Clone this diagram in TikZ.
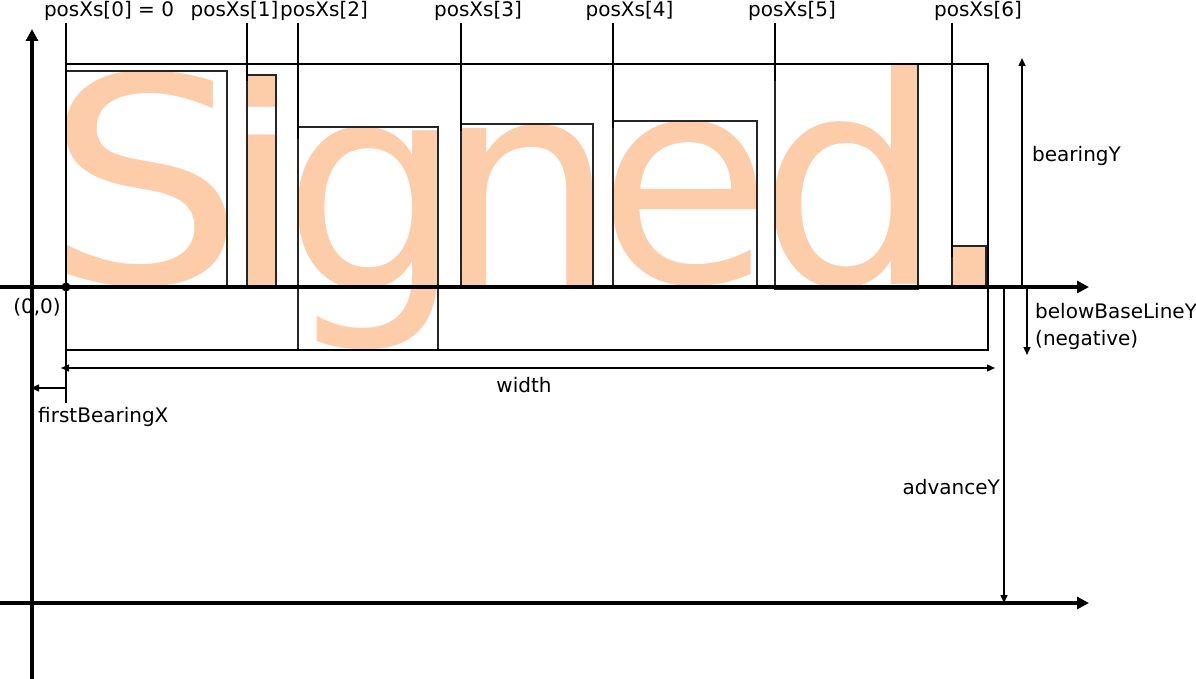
\documentclass[tikz,border=0pt]{standalone}
\usepackage{fontspec}
\setmainfont{DejaVu Sans}
\usetikzlibrary{arrows.meta}
\definecolor{peach}{RGB}{253,205,170}
\makeatletter
% measure the ink of a glyph at 100pt: left bearing, top, ink width, ink height
\newcommand\measureglyph[2]{%
  \begingroup
  \fontsize{100}{100}\selectfont
  \setbox0=\hbox{#2}%
  \count@=\XeTeXcharglyph`#2\relax
  \dimen1=\XeTeXglyphbounds1 \count@
  \dimen2=\XeTeXglyphbounds2 \count@
  \dimen4=\XeTeXglyphbounds3 \count@
  \dimen6=\XeTeXglyphbounds4 \count@
  \dimen8=\wd0 \advance\dimen8 by -\dimen1 \advance\dimen8 by -\dimen4
  \dimen3=\dimen2 \advance\dimen3 by \dimen6
  \expandafter\xdef\csname gW@#1\endcsname{\strip@pt\dimen8}%
  \expandafter\xdef\csname gH@#1\endcsname{\strip@pt\dimen3}%
  \expandafter\xdef\csname gL@#1\endcsname{\strip@pt\dimen1}%
  \expandafter\xdef\csname gT@#1\endcsname{\strip@pt\dimen2}%
  \endgroup
}
\AtBeginDocument{%
  \measureglyph{gS}{S}\measureglyph{gi}{i}\measureglyph{gg}{g}%
  \measureglyph{gn}{n}\measureglyph{ge}{e}\measureglyph{gd}{d}%
  \measureglyph{gp}{.}}
% place a glyph so that its ink fills the box (x1,y1)-(x2,y2), y measured downwards
\newcommand\fitglyph[6]{%
  \begingroup
  \edef\gW{\csname gW@#1\endcsname}%
  \edef\gH{\csname gH@#1\endcsname}%
  \edef\gL{\csname gL@#1\endcsname}%
  \edef\gT{\csname gT@#1\endcsname}%
  \pgfmathsetmacro\gsx{(#5-#3)/\gW}%
  \pgfmathsetmacro\gsy{(#6-#4)/\gH}%
  \pgfmathsetmacro\gx{#3-\gsx*\gL}%
  \pgfmathsetmacro\gy{#4+\gsy*\gT}%
  \begin{scope}[shift={(\gx,\gy)}]
    \node[glyph,xscale=\gsx,yscale=\gsy,transform shape] (#1) at (0,0) {\fontsize{100}{100}\selectfont #2};
  \end{scope}
  \endgroup
}
\makeatother
\begin{document}
\begin{tikzpicture}[x=1pt,y=-1pt,
  axis/.style={line width=3.2pt,-{Triangle[length=12pt,width=12pt]}},
  dim/.style={line width=1.5pt,-{Triangle[length=8pt,width=7pt]}},
  dimboth/.style={line width=1.5pt,{Triangle[length=8pt,width=7pt]}-{Triangle[length=8pt,width=7pt]}},
  gbox/.style={draw=black!85,line width=1.3pt},
  outer/.style={draw,line width=2.5pt},
  tick/.style={line width=1.7pt},
  lbl/.style={inner sep=0pt,font=\fontsize{20}{27}\selectfont},
  glyph/.style={inner sep=0pt,outer sep=0pt,anchor=base west,text=peach}
]
\useasboundingbox (0,0) rectangle (1196,679);

% glyphs, each filling its ink box
\fitglyph{gS}{S}{66}{71}{227}{288}
\fitglyph{gi}{i}{247}{75}{276}{287}
\fitglyph{gg}{g}{298}{127}{438}{350}
\fitglyph{gn}{n}{461}{124}{593}{288}
\fitglyph{ge}{e}{613}{121}{757}{287}
\fitglyph{gd}{d}{775}{64}{918}{289}
\fitglyph{gp}{.}{952}{246}{986}{287}

% glyph boxes
\draw[gbox] (66,71) rectangle (227,288);
\draw[gbox] (247,75) rectangle (276,287);
\draw[gbox] (298,127) rectangle (438,350);
\draw[gbox] (461,124) rectangle (593,288);
\draw[gbox] (613,121) rectangle (757,287);
\draw[gbox] (775,64) rectangle (918,289);
\draw[gbox] (952,246) rectangle (986,287);

% outer box
\draw[outer] (66,64) rectangle (988,350);

% axes
\coordinate (yb) at (32,679);
\coordinate (yt) at (32,29);
\coordinate (b0) at (0,287);
\coordinate (b1) at (1089,287);
\coordinate (a0) at (0,603);
\coordinate (a1) at (1089,603);
\draw[axis] (yb) -- (yt);
\draw[axis] (b0) -- (b1);
\draw[axis] (a0) -- (a1);

% origin
\fill (66,287) circle[radius=4.5pt];
\node[lbl] (orig) at (37,307) {(0,0)};

% posXs labels and ticks
\node[lbl,anchor=base] (p0) at (109,17) {posXs[0] = 0};
\node[lbl,anchor=base] (p1) at (234.5,17) {posXs[1]};
\node[lbl,anchor=base] (p2) at (324,17) {posXs[2]};
\node[lbl,anchor=base] (p3) at (478,17) {posXs[3]};
\node[lbl,anchor=base] (p4) at (629.5,17) {posXs[4]};
\node[lbl,anchor=base] (p5) at (792,17) {posXs[5]};
\node[lbl,anchor=base] (p6) at (978,17) {posXs[6]};
\coordinate (t0a) at (66,23);  \coordinate (t0b) at (66,403);
\coordinate (t1a) at (247,23); \coordinate (t1b) at (247,81);
\coordinate (t2a) at (298,23); \coordinate (t2b) at (298,139);
\coordinate (t3a) at (461,23); \coordinate (t3b) at (461,131);
\coordinate (t4a) at (613,23); \coordinate (t4b) at (613,128);
\coordinate (t5a) at (775,23); \coordinate (t5b) at (775,81);
\coordinate (t6a) at (952,23); \coordinate (t6b) at (952,257);
\foreach \i in {0,...,6} { \draw[tick] (t\i a) -- (t\i b); }

% bearingY
\coordinate (byb) at (1022,287); \coordinate (byt) at (1022,58);
\draw[dim] (byb) -- (byt);
\node[lbl,anchor=base west] (bearingY) at (1032,162) {bearingY};

% belowBaseLineY
\coordinate (bbt) at (1027,287); \coordinate (bbb) at (1027,355);
\draw[dim] (bbt) -- (bbb);
\node[lbl,anchor=west,align=left] (below) at (1035,326.5) {belowBaseLineY\\(negative)};

% advanceY
\coordinate (avt) at (1004,285); \coordinate (avb) at (1004,603);
\draw[dim] (avt) -- (avb);
\node[lbl,anchor=east] (adv) at (1000,487) {advanceY};

% width
\coordinate (wl) at (61,368); \coordinate (wr) at (995,368);
\draw[dimboth] (wl) -- (wr);
\node[lbl] (width) at (524,385) {width};

% firstBearingX
\coordinate (fb1) at (66,388); \coordinate (fb0) at (31,388);
\draw[dim] (fb1) -- (fb0);
\node[lbl,anchor=west] (fbx) at (38,417) {firstBearingX};
\end{tikzpicture}
\end{document}
